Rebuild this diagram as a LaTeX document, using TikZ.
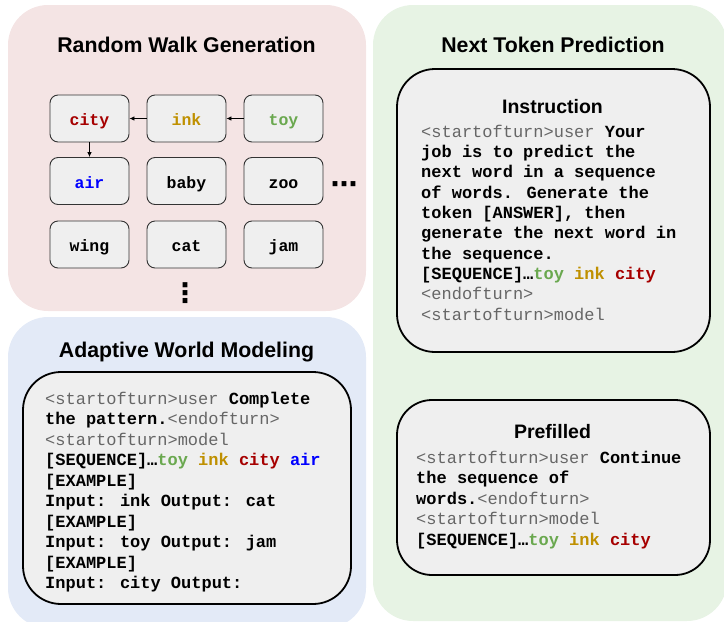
\documentclass[tikz,border=0pt]{standalone}
\usepackage{fontspec}
\setmainfont{Liberation Sans}
\newfontfamily\codefont{Liberation Mono}
\newfontfamily\symfont{DejaVu Sans}
\usetikzlibrary{arrows.meta}

\definecolor{panelpink}{RGB}{244,228,228}
\definecolor{panelblue}{RGB}{227,234,247}
\definecolor{panelgreen}{RGB}{231,243,228}
\definecolor{boxfill}{RGB}{239,239,239}
\definecolor{tokgray}{RGB}{102,102,102}
\definecolor{wgreen}{RGB}{106,168,79}
\definecolor{wgold}{RGB}{191,144,0}
\definecolor{wred}{RGB}{166,0,0}
\definecolor{wblue}{RGB}{0,0,255}

% special tokens are set in regular gray, prompt text in bold black
\newcommand\tokn[1]{{\mdseries\color{tokgray}#1}}
\newcommand\wdgreen[1]{\textcolor{wgreen}{#1}}
\newcommand\wdgold[1]{\textcolor{wgold}{#1}}
\newcommand\wdred[1]{\textcolor{wred}{#1}}
\newcommand\wdblue[1]{\textcolor{wblue}{#1}}

\tikzset{
  panel/.style={rounded corners=40pt, draw=none},
  promptbox/.style={rounded corners=38pt, fill=boxfill, draw=black, line width=1.8pt},
  wordbox/.style={rounded corners=8pt, fill=boxfill, draw=black!80, line width=0.9pt,
    minimum width=79pt, minimum height=47pt, inner sep=0pt,
    font=\codefont\bfseries\fontsize{16.5}{18}\selectfont, text height=14pt, text depth=0pt},
  walkarrow/.style={-{Latex[length=5pt,width=4.5pt]}, line width=0.8pt},
  paneltitle/.style={font=\bfseries\fontsize{21.3}{24}\selectfont, anchor=base, inner sep=0pt},
  boxtitle/.style={font=\bfseries\fontsize{19.5}{22}\selectfont, anchor=base, inner sep=0pt},
  codeline/.style={font=\codefont\bfseries\fontsize{17}{20.5}\selectfont, anchor=base west, inner sep=0pt},
  ellipsis/.style={font=\symfont\bfseries\fontsize{27}{27}\selectfont, inner sep=0pt, anchor=base},
}

\begin{document}
\begin{tikzpicture}[x=1pt,y=-1pt]
\useasboundingbox (0,0) rectangle (724,622);
\clip (0,0) rectangle (724,622);

% background panels
\fill[panel, panelpink]  (8,5) rectangle (366,311);
\fill[panel, panelblue]  (8,317) rectangle (366,628);
\fill[panel, panelgreen] (373,5) rectangle (727,621);

% ---- Random walk generation ----
\node[paneltitle] (rwtitle) at (186.5,52.5) {Random Walk Generation};

\node[wordbox] (city) at (89.5,118.5)  {\wdred{city}};
\node[wordbox] (ink)  at (186.5,118.5) {\wdgold{ink}};
\node[wordbox] (toy)  at (283.5,118.5) {\wdgreen{toy}};
\node[wordbox] (air)  at (89.5,181)    {\wdblue{air}};
\node[wordbox] (baby) at (186.5,181)   {baby};
\node[wordbox] (zoo)  at (283.5,181)   {zoo};
\node[wordbox] (wing) at (89.5,244.5)  {wing};
\node[wordbox] (cat)  at (186.5,244.5) {cat};
\node[wordbox] (jam)  at (283.5,244.5) {jam};

\draw[walkarrow] (toy.west) -- (ink.east);
\draw[walkarrow] (ink.west) -- (city.east);
\draw[walkarrow] (city.south) -- (air.north);

\node[ellipsis] (hdots) at (344,193) {⋯};
\node[ellipsis] (vdots) at (185,302) {⋮};

% ---- Adaptive world modeling ----
\node[paneltitle] (awtitle) at (186.5,357) {Adaptive World Modeling};
\draw[promptbox] (23,372) rectangle (351,604);
\node[codeline] (aw1)  at (45,404)   {\tokn{<startofturn>user} Complete};
\node[codeline] (aw2)  at (45,424.5) {the pattern.\tokn{<endofturn>}};
\node[codeline] (aw3)  at (45,445)   {\tokn{<startofturn>model}};
\node[codeline] (aw4)  at (45,465.5) {[SEQUENCE]…\wdgreen{toy} \wdgold{ink} \wdred{city} \wdblue{air}};
\node[codeline] (aw5)  at (45,486)   {[EXAMPLE]};
\node[codeline] (aw6)  at (45,506.5) {Input: ink Output: cat};
\node[codeline] (aw7)  at (45,527)   {[EXAMPLE]};
\node[codeline] (aw8)  at (45,547.5) {Input: toy Output: jam};
\node[codeline] (aw9)  at (45,568)   {[EXAMPLE]};
\node[codeline] (aw10) at (45,588.5) {Input: city Output:};

% ---- Next token prediction ----
\node[paneltitle] (nttitle) at (553,52) {Next Token Prediction};

\draw[promptbox] (397,69) rectangle (710,352);
\node[boxtitle] (insttitle) at (552.5,113) {Instruction};
\node[codeline] (in1)  at (421,137)   {\tokn{<startofturn>user} Your};
\node[codeline] (in2)  at (421,157.3) {job is to predict the};
\node[codeline] (in3)  at (421,177.7) {next word in a sequence};
\node[codeline] (in4)  at (421,198)   {of words. Generate the};
\node[codeline] (in5)  at (421,218.3) {token [ANSWER], then};
\node[codeline] (in6)  at (421,238.7) {generate the next word in};
\node[codeline] (in7)  at (421,259)   {the sequence.};
\node[codeline] (in8)  at (421,279.3) {[SEQUENCE]…\wdgreen{toy} \wdgold{ink} \wdred{city}};
\node[codeline] (in9)  at (421,299.7) {\tokn{<endofturn>}};
\node[codeline] (in10) at (421,320)   {\tokn{<startofturn>model}};

\draw[promptbox, rounded corners=35pt] (397,400) rectangle (710,575);
\node[boxtitle] (pretitle) at (552.5,438) {Prefilled};
\node[codeline] (pf1) at (416,463)   {\tokn{<startofturn>user} Continue};
\node[codeline] (pf2) at (416,483.5) {the sequence of};
\node[codeline] (pf3) at (416,504)   {words.\tokn{<endofturn>}};
\node[codeline] (pf4) at (416,524.5) {\tokn{<startofturn>model}};
\node[codeline] (pf5) at (416,545)   {[SEQUENCE]…\wdgreen{toy} \wdgold{ink} \wdred{city}};
\end{tikzpicture}
\end{document}
